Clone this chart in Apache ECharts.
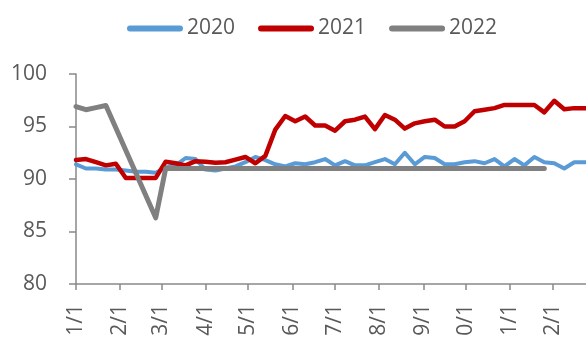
<!DOCTYPE html>
<html>
<head>
<meta charset="utf-8">
<script src="https://cdn.jsdelivr.net/npm/echarts@6/dist/echarts.min.js"></script>
<style>
  html, body { margin: 0; padding: 0; background: #fff; }
  #chart { width: 586px; height: 340px; }
</style>
</head>
<body>
<div id="chart"></div>
<script>
// Weekly observation dates
const weeks = [
  '2020-01-01','2020-01-08','2020-01-15','2020-01-22','2020-01-29',
  '2020-02-05','2020-02-12','2020-02-19','2020-02-26',
  '2020-03-04','2020-03-11','2020-03-18','2020-03-25',
  '2020-04-01','2020-04-08','2020-04-15','2020-04-22','2020-04-29',
  '2020-05-06','2020-05-13','2020-05-20','2020-05-27',
  '2020-06-03','2020-06-10','2020-06-17','2020-06-24',
  '2020-07-01','2020-07-08','2020-07-15','2020-07-22','2020-07-29',
  '2020-08-05','2020-08-12','2020-08-19','2020-08-26',
  '2020-09-02','2020-09-09','2020-09-16','2020-09-23','2020-09-30',
  '2020-10-07','2020-10-14','2020-10-21','2020-10-28',
  '2020-11-04','2020-11-11','2020-11-18','2020-11-25',
  '2020-12-02','2020-12-09','2020-12-16','2020-12-23','2020-12-30'
];

const seriesNames = ['2020', '2021', '2022'];

const values2020 = [
  91.4, 91.0, 91.0, 90.9, 90.9,
  90.8, 90.7, 90.7, 90.6,
  91.1, 91.3, 92.0, 91.9,
  90.9, 90.8, 91.0, 91.2, 91.6,
  92.1, 91.8, 91.4, 91.2,
  91.5, 91.4, 91.6, 91.9,
  91.3, 91.7, 91.3, 91.3, 91.6,
  91.9, 91.4, 92.5, 91.4,
  92.1, 92.0, 91.4, 91.4, 91.6,
  91.7, 91.5, 91.9, 91.2,
  91.9, 91.3, 92.1, 91.6,
  91.5, 91.0, 91.6, 91.6, 91.6
];

const values2021 = [
  91.8, 91.9, 91.6, 91.3, 91.45,
  90.1, 90.1, 90.1, 90.1,
  91.65, 91.5, 91.3, 91.7,
  91.65, 91.55, 91.6, 91.85, 92.1,
  91.5, 92.2, 94.7, 96.0,
  95.5, 95.95, 95.1, 95.1,
  94.6, 95.5, 95.65, 95.95, 94.75,
  96.1, 95.65, 94.8, 95.3,
  95.5, 95.65, 95.0, 95.0, 95.5,
  96.45, 96.6, 96.75, 97.05,
  97.05, 97.05, 97.05, 96.35,
  97.45, 96.65, 96.75, 96.75, 96.75
];

const values2022 = [
  96.9, 96.6, 96.8, 97.0, null,
  null, null, null, 86.3,
  91.0, 91.0, 91.0, 91.0,
  91.0, 91.0, 91.0, 91.0, 91.0,
  91.0, 91.0, 91.0, 91.0,
  91.0, 91.0, 91.0, 91.0,
  91.0, 91.0, 91.0, 91.0, 91.0,
  91.0, 91.0, 91.0, 91.0,
  91.0, 91.0, 91.0, 91.0, 91.0,
  91.0, 91.0, 91.0, 91.0,
  91.0, 91.0, 91.0, 91.0,
  null, null, null, null, null
];

const yTicks = { min: 80, max: 100, step: 5 };

const colors = ['#5B9BD5', '#C00000', '#808080'];
const widths = [4, 4.5, 5];
const textColor = '#595959';
const axisColor = '#898989';
const font = '"Open Sans", "Noto Sans", sans-serif';

function pair(vals) {
  return weeks.map((d, i) => [d, vals[i]]);
}

const allValues = [values2020, values2021, values2022];
const DAY = 86400000;

const chart = echarts.init(document.getElementById('chart'), null, { renderer: 'canvas' });

chart.setOption({
  animation: false,
  backgroundColor: '#ffffff',
  color: colors,
  legend: {
    data: seriesNames,
    left: 122,
    top: 13,
    itemWidth: 56,
    itemHeight: 6,
    itemGap: 23,
    icon: 'path://M3,0 H53 A3,3 0 0 1 53,6 H3 A3,3 0 0 1 3,0 Z',
    textStyle: { color: textColor, fontSize: 21, fontFamily: font, padding: [0, 0, 0, -1] }
  },
  grid: {
    left: 76, right: -11, top: 74, bottom: 56,
    containLabel: false,
    outerBoundsMode: 'none'
  },
  xAxis: {
    type: 'time',
    min: '2020-01-01',
    max: '2021-01-01',
    splitNumber: 12,
    minInterval: 28 * DAY,
    maxInterval: 31 * DAY,
    axisLine: { show: true, lineStyle: { color: axisColor, width: 1.5 } },
    axisTick: { show: true, length: 6, lineStyle: { color: axisColor, width: 1.5 } },
    splitLine: { show: false },
    axisLabel: {
      rotate: 90,
      margin: 20,
      color: textColor,
      fontSize: 21,
      fontFamily: font,
      hideOverlap: false,
      formatter: function (v) {
        const d = new Date(v);
        return (d.getMonth() + 1) + '/' + d.getDate();
      }
    }
  },
  yAxis: {
    type: 'value',
    min: yTicks.min,
    max: yTicks.max,
    interval: yTicks.step,
    axisLine: { show: true, lineStyle: { color: axisColor, width: 1.5 } },
    axisTick: { show: true, length: 7, lineStyle: { color: axisColor, width: 1.5 } },
    splitLine: { show: false },
    axisLabel: { color: textColor, fontSize: 21, fontFamily: font, margin: 29 }
  },
  series: seriesNames.map((name, i) => ({
    name: name,
    type: 'line',
    data: pair(allValues[i]),
    symbol: 'none',
    connectNulls: true,
    smooth: false,
    lineStyle: { width: widths[i], color: colors[i], cap: 'round', join: 'round' },
    itemStyle: { color: colors[i] }
  }))
});
</script>
</body>
</html>
